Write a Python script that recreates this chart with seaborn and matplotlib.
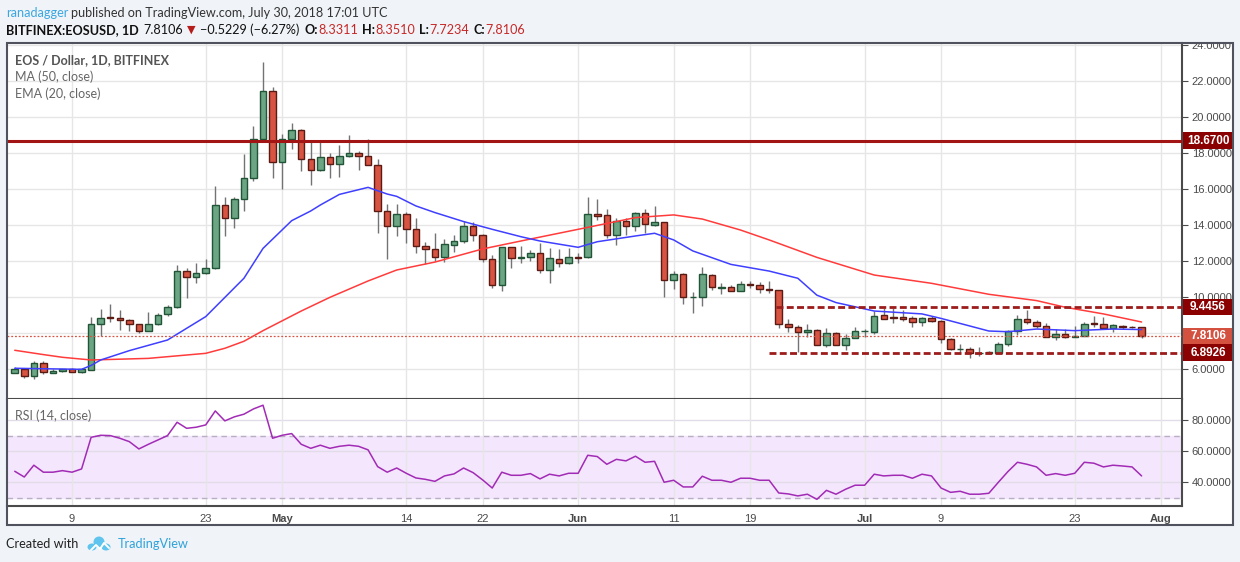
import numpy as np
import pandas as pd
import matplotlib
matplotlib.use("Agg")
import matplotlib.pyplot as plt
import seaborn as sns
from matplotlib.patches import Rectangle, Ellipse
from matplotlib.transforms import blended_transform_factory, Bbox, TransformedBbox

# ---------------- DATA (EOS / USD daily, Bitfinex) ----------------
start_day = "2018-04-03"
end_day = "2018-07-30"

opens = [5.80, 6.02, 5.61, 6.35, 5.80, 5.89, 5.98, 5.85, 5.96, 8.52,
         8.87, 8.85, 8.74, 8.52, 8.13, 8.52, 9.07, 9.46, 11.46, 11.13,
         11.31, 11.60, 15.11, 14.41, 15.43, 16.59, 18.76, 21.43, 17.48, 18.76,
         19.26, 17.65, 17.04, 17.76, 17.39, 17.85, 18.00, 17.85, 17.35, 14.80,
         13.93, 14.59, 13.80, 12.81, 12.65, 12.20, 12.87, 13.09, 13.93, 13.43,
         12.09, 10.65, 12.76, 12.15, 12.20, 12.43, 11.50, 12.09, 11.87, 12.22,
         12.20, 14.60, 14.54, 13.43, 14.20, 13.93, 14.65, 13.98, 14.15, 10.93,
         11.26, 9.98, 9.98, 11.20, 10.52, 10.54, 10.31, 10.70, 10.65, 10.43,
         10.37, 8.48, 8.31, 8.04, 8.15, 7.31, 7.98, 7.31, 7.70, 8.11,
         8.04, 8.98, 8.87, 8.87, 8.81, 8.59, 8.81, 8.65, 7.65, 7.11,
         7.13, 6.89, 6.89, 6.91, 7.37, 8.09, 8.76, 8.59, 8.37, 7.80,
         7.96, 7.80, 7.85, 8.54, 8.48, 8.26, 8.37, 8.33, 8.3311]
highs = [6.13, 6.07, 6.43, 6.43, 5.98, 6.02, 6.07, 6.07, 8.91, 9.31,
         9.59, 9.26, 8.80, 8.52, 9.17, 9.10, 9.54, 11.78, 11.63, 11.91,
         12.09, 16.17, 15.57, 15.57, 17.94, 19.50, 23.06, 21.65, 19.06, 19.65,
         19.35, 18.59, 18.65, 18.00, 18.44, 19.00, 18.09, 18.76, 17.65, 15.17,
         15.17, 14.72, 14.37, 13.06, 13.54, 13.20, 13.44, 14.24, 14.19, 13.50,
         12.33, 12.80, 12.80, 12.83, 12.59, 13.00, 12.70, 12.65, 12.70, 12.43,
         15.56, 15.43, 14.87, 14.37, 14.37, 14.72, 14.87, 15.06, 14.15, 11.43,
         11.35, 10.26, 11.65, 11.26, 10.76, 10.65, 10.87, 10.87, 10.81, 10.87,
         10.39, 8.76, 8.43, 8.48, 8.20, 8.26, 8.07, 7.96, 8.31, 8.24,
         9.20, 9.41, 9.41, 9.26, 8.93, 8.87, 8.93, 8.70, 7.70, 7.37,
         7.20, 7.20, 7.00, 7.48, 8.15, 8.98, 9.30, 8.70, 8.54, 8.20,
         8.20, 8.39, 8.63, 8.93, 8.87, 8.50, 8.43, 8.40, 8.3510]
lows = [5.76, 5.50, 5.46, 5.74, 5.76, 5.83, 5.81, 5.78, 5.96, 7.83,
        8.61, 8.17, 8.09, 7.98, 8.13, 8.45, 8.96, 9.40, 9.94, 10.80,
        11.25, 11.55, 13.41, 13.85, 14.80, 16.46, 18.70, 16.59, 15.98, 18.20,
        17.00, 16.24, 17.00, 16.59, 16.65, 17.80, 17.04, 17.35, 13.57, 12.09,
        13.41, 12.98, 12.43, 11.85, 12.02, 11.94, 12.52, 12.98, 13.13, 11.96,
        10.48, 10.35, 11.59, 11.89, 11.98, 11.31, 10.76, 11.68, 11.85, 11.87,
        12.15, 14.28, 13.26, 12.87, 13.43, 13.69, 13.54, 13.95, 10.00, 10.43,
        9.59, 9.09, 9.50, 10.37, 10.15, 10.31, 10.31, 10.48, 10.20, 10.20,
        8.26, 8.07, 6.93, 7.78, 7.31, 7.24, 7.31, 7.07, 7.70, 7.80,
        7.94, 8.76, 8.56, 8.65, 8.31, 8.37, 8.59, 7.43, 7.06, 6.81,
        6.59, 6.70, 6.83, 6.87, 7.26, 7.87, 8.48, 8.26, 7.80, 7.59,
        7.70, 7.80, 7.85, 8.35, 8.20, 8.07, 8.24, 8.25, 7.7234]
closes = [6.02, 5.61, 6.35, 5.85, 5.91, 5.98, 5.85, 6.02, 8.52, 8.85,
          8.83, 8.74, 8.52, 8.13, 8.52, 9.02, 9.46, 11.46, 11.13, 11.31,
          11.63, 15.11, 14.41, 15.43, 16.59, 18.76, 21.43, 17.48, 18.76, 19.26,
          17.65, 17.04, 17.76, 17.37, 17.81, 18.00, 17.85, 17.35, 14.80, 13.93,
          14.59, 13.80, 12.81, 12.65, 12.20, 12.93, 13.09, 13.93, 13.43, 12.09,
          10.65, 12.76, 12.15, 12.20, 12.43, 11.50, 12.15, 11.87, 12.20, 12.18,
          14.59, 14.52, 13.43, 14.20, 13.93, 14.65, 14.04, 14.15, 10.93, 11.26,
          9.98, 10.00, 11.26, 10.54, 10.56, 10.31, 10.70, 10.65, 10.43, 10.37,
          8.48, 8.31, 8.04, 8.15, 7.31, 7.98, 7.31, 7.70, 8.09, 8.13,
          8.93, 8.76, 8.81, 8.76, 8.59, 8.81, 8.65, 7.65, 7.09, 7.13,
          6.87, 6.91, 6.94, 7.37, 8.09, 8.76, 8.59, 8.37, 7.80, 7.96,
          7.80, 7.85, 8.52, 8.50, 8.26, 8.43, 8.35, 8.32, 7.8106]

# MA(50) and EMA(20) at sample days (day 0 = Apr 3)
ma_day = [0, 3, 5, 8, 14, 20, 22, 24, 26, 30, 33, 37, 40, 44, 49, 54, 59, 65,
          69, 72, 76, 79, 84, 90, 96, 102, 107, 110, 114, 118]
ma_val = [7.04, 6.80, 6.65, 6.50, 6.59, 6.87, 7.15, 7.54, 8.13, 9.22, 9.98,
          10.89, 11.50, 11.94, 12.67, 13.22, 13.76, 14.41, 14.56, 14.33, 13.72,
          13.17, 12.20, 11.22, 10.76, 10.15, 9.80, 9.43, 9.06, 8.61]
ema_day = [0, 7, 8, 9, 12, 16, 20, 24, 26, 29, 31, 32, 34, 37, 39, 40, 42, 44,
           47, 50, 53, 55, 59, 61, 65, 67, 69, 71, 75, 79, 82, 84, 86, 90, 95,
           97, 102, 104, 107, 111, 115, 118]
ema_val = [6.04, 5.98, 6.20, 6.50, 7.02, 7.61, 8.91, 11.04, 12.70, 14.24,
           14.78, 15.11, 15.70, 16.09, 15.72, 15.59, 15.06, 14.69, 14.19, 13.76,
           13.35, 13.11, 12.76, 13.07, 13.39, 13.54, 13.17, 12.56, 11.81, 11.44,
           11.04, 10.10, 9.69, 9.22, 9.06, 8.81, 8.11, 8.07, 8.22, 8.13, 8.22, 8.19]

rsi = [47.1, 43.4, 51.0, 46.5, 46.5, 47.5, 46.5, 48.6, 69.0, 70.3,
       70.1, 68.4, 66.2, 61.5, 64.5, 67.3, 70.1, 78.7, 74.8, 75.5,
       77.0, 86.0, 79.6, 82.2, 83.9, 87.3, 89.7, 68.4, 70.3, 71.4,
       64.5, 61.9, 63.9, 61.9, 63.2, 63.9, 63.2, 60.9, 50.1, 46.5,
       49.2, 45.8, 42.8, 41.9, 40.6, 44.1, 45.4, 49.2, 46.2, 41.5,
       36.3, 46.5, 44.5, 44.5, 45.6, 42.2, 45.2, 44.1, 45.8, 45.8,
       57.4, 56.6, 51.6, 54.8, 53.8, 56.8, 52.9, 53.5, 40.0, 41.3,
       37.0, 37.0, 43.9, 41.3, 41.3, 40.0, 42.6, 42.6, 41.3, 41.3,
       33.1, 32.5, 31.2, 32.3, 29.0, 34.8, 32.3, 35.5, 38.1, 38.1,
       45.2, 44.1, 44.5, 44.5, 42.6, 45.2, 44.1, 36.3, 33.5, 34.2,
       32.3, 32.3, 32.9, 40.0, 46.9, 52.9, 51.6, 49.9, 44.5, 45.6,
       44.5, 45.8, 52.9, 52.3, 49.9, 51.0, 50.5, 49.9, 44.1]

# horizontal levels drawn on the chart
resistance_top = 18.67
range_high = 9.4456
range_low = 6.8926
last_close = 7.8106
range_start = ["2018-06-22", "2018-06-21"]   # where the dashed lines begin

price_ticks = [6, 8, 10, 12, 14, 16, 18, 20, 22, 24]
hidden_price_ticks = [8]     # covered by the last price tag in the original
rsi_ticks = [40, 60, 80]
tick_dates = ["2018-04-09", "2018-04-23", "2018-05-01", "2018-05-14", "2018-05-22",
              "2018-06-01", "2018-06-11", "2018-06-19", "2018-07-01", "2018-07-09",
              "2018-07-23", "2018-08-01"]
tick_text = ["9", "23", "May", "14", "22", "Jun", "11", "19", "Jul", "9", "23", "Aug"]

# ---------------- PREP ----------------
days = pd.date_range(start_day, end_day, freq="D")
df = pd.DataFrame({"open": opens, "high": highs, "low": lows, "close": closes,
                   "rsi": rsi})
df["day"] = np.arange(len(days))
t0 = pd.Timestamp(start_day)
tick_pos = [(pd.Timestamp(d) - t0).days for d in tick_dates]

W, H = 1240, 562
def fx(x):
    return x / W
def fy(y):
    return 1 - y / H

sns.set_style("white")
plt.rcParams["font.family"] = ["Liberation Sans", "DejaVu Sans"]

fig = plt.figure(figsize=(W / 100, H / 100), dpi=100)
fig.patch.set_facecolor("#F0F3F7")

# white chart box behind the panes
fig.add_artist(Rectangle((fx(7), fy(525)), fx(1233) - fx(7), fy(43) - fy(525),
                         transform=fig.transFigure, fc="white", ec="none", zorder=-5))

ax = fig.add_axes([fx(7), fy(399), fx(1182) - fx(7), fy(43) - fy(399)])
ax_rsi = fig.add_axes([fx(7), fy(506), fx(1182) - fx(7), fy(399) - fy(506)])

xmin, xmax = -0.81, 122.23
grid_c = "#E6E6E6"
axis_c = "#4A4A4A"

# ---------------- MAIN PANE ----------------
ax.set_xlim(xmin, xmax)
ax.set_ylim(4.333, 24.11)
for p in price_ticks:
    ax.axhline(p, color=grid_c, lw=1, zorder=0)
for t in tick_pos:
    ax.axvline(t, color=grid_c, lw=1, zorder=0)

up_fill, up_edge = "#6BA583", "#225437"
dn_fill, dn_edge = "#D75442", "#5B1A13"
wick_c = "#737375"

ax.vlines(df["day"], df["low"], df["high"], color=wick_c, lw=1, zorder=2)
is_up = df["close"] >= df["open"]
body_lo = np.minimum(df["open"], df["close"])
body_h = np.maximum((df["close"] - df["open"]).abs(), 0.02)
ax.bar(df["day"][is_up], body_h[is_up], bottom=body_lo[is_up], width=0.68,
       color=up_fill, edgecolor=up_edge, lw=1, zorder=3)
ax.bar(df["day"][~is_up], body_h[~is_up], bottom=body_lo[~is_up], width=0.68,
       color=dn_fill, edgecolor=dn_edge, lw=1, zorder=3)

sns.lineplot(x=ma_day, y=ma_val, ax=ax, color="#FF3B3B", lw=1.1, zorder=4)
sns.lineplot(x=ema_day, y=ema_val, ax=ax, color="#3F3FFF", lw=1.1, zorder=4)

# levels
ax.axhline(resistance_top, color="#A31515", lw=2.2, zorder=5)
ax.axhline(last_close, color="#D75442", lw=0.9, ls=(0, (1.5, 1.5)), zorder=5)
d_hi = (pd.Timestamp(range_start[0]) - t0).days - 0.3
d_lo = (pd.Timestamp(range_start[1]) - t0).days
ax.plot([d_hi, xmax], [range_high, range_high], color="#9C1C1C", lw=2,
        ls=(0, (2.5, 1.2)), zorder=5)
ax.plot([d_lo, xmax], [range_low, range_low], color="#9C1C1C", lw=2,
        ls=(0, (2.5, 1.2)), zorder=5)

ax.set_xticks(tick_pos)
ax.set_xticklabels([])
ax.tick_params(axis="x", length=0)
ax.yaxis.tick_right()
ax.set_yticks(price_ticks)
ax.set_yticklabels(["" if p in hidden_price_ticks else f"{p:.4f}" for p in price_ticks],
                   fontsize=8, color=axis_c)
ax.tick_params(axis="y", length=4, width=0.8, color=axis_c, pad=3)
ax.set_xlabel("")
ax.set_ylabel("")
for s in ["top", "left"]:
    ax.spines[s].set_visible(False)
for s in ["bottom", "right"]:
    ax.spines[s].set_color(axis_c)
    ax.spines[s].set_linewidth(1.5)

# top label is cut by the chart box, as in the original
box_clip = TransformedBbox(Bbox([[fx(7), fy(525)], [fx(1233), fy(44)]]), fig.transFigure)
for lab in ax.get_yticklabels():
    lab.set_clip_box(box_clip)
    lab.set_clip_on(True)

# price tags on the axis
tag_tr = blended_transform_factory(fig.transFigure, ax.transData)
tags = [(resistance_top, "#8B0000"), (range_high, "#8B0000"),
        (last_close, "#D4503F"), (range_low, "#8B0000")]
for val, col in tags:
    ax.add_patch(Rectangle((fx(1183), val - 0.47), fx(1233) - fx(1183), 0.94,
                           transform=tag_tr, fc=col, ec="none", clip_on=False, zorder=10))
    ax.text(fx(1208), val, f"{val:.4f}", transform=tag_tr, ha="center", va="center",
            color="white", fontsize=8.5, fontweight="bold", zorder=11, clip_on=False)

# legend texts
leg_font = ["Lato", "DejaVu Sans"]
fig.text(fx(15), fy(60), "EOS / Dollar, 1D, BITFINEX", color="#555555", fontsize=9,
         family=leg_font, fontweight="bold", va="center")
fig.text(fx(15), fy(77), "MA (50, close)", color="#666666", fontsize=9,
         family=leg_font, va="center")
fig.text(fx(15), fy(94), "EMA (20, close)", color="#666666", fontsize=9,
         family=leg_font, va="center")

# ---------------- RSI PANE ----------------
ax_rsi.set_xlim(xmin, xmax)
ax_rsi.set_ylim(24.7, 93.7)
ax_rsi.axhspan(30, 70, color="#F3E6FD", zorder=0)
for r in rsi_ticks:
    ax_rsi.axhline(r, color="#E2DCE8", lw=1, zorder=0.5)
for t in tick_pos:
    ax_rsi.axvline(t, color=grid_c, lw=1, zorder=0.5)
ax_rsi.axhline(70, color="#B9AFC2", lw=1, ls=(0, (4, 3)), zorder=1)
ax_rsi.axhline(30, color="#B9AFC2", lw=1, ls=(0, (4, 3)), zorder=1)
sns.lineplot(data=df, x="day", y="rsi", ax=ax_rsi, color="#A22BB5", lw=1.1, zorder=3)
fig.text(fx(15), fy(416), "RSI (14, close)", color="#666666", fontsize=9,
         family=leg_font, va="center")

ax_rsi.yaxis.tick_right()
ax_rsi.set_yticks(rsi_ticks)
ax_rsi.set_yticklabels([f"{r:.4f}" for r in rsi_ticks], fontsize=8, color=axis_c)
ax_rsi.tick_params(axis="y", length=4, width=0.8, color=axis_c, pad=3)
ax_rsi.set_xticks(tick_pos)
ax_rsi.set_xticklabels(tick_text, fontsize=8, color=axis_c)
for lab, txt in zip(ax_rsi.get_xticklabels(), tick_text):
    if txt in ("May", "Jun", "Jul", "Aug"):
        lab.set_fontweight("bold")
ax_rsi.tick_params(axis="x", length=3, width=0.8, color=axis_c, pad=3)
ax_rsi.set_xlabel("")
ax_rsi.set_ylabel("")
for s in ["top", "left"]:
    ax_rsi.spines[s].set_visible(False)
for s in ["bottom", "right"]:
    ax_rsi.spines[s].set_color(axis_c)
    ax_rsi.spines[s].set_linewidth(1.5)

# outer border of the chart box
fig.add_artist(Rectangle((fx(7), fy(525)), fx(1233) - fx(7), fy(43) - fy(525),
                         transform=fig.transFigure, fc="none", ec="#50535E",
                         lw=1.5, zorder=20))

# ---------------- HEADER / FOOTER ----------------
renderer = fig.canvas.get_renderer()

def chain(pieces, x0, y0):
    x = x0
    for s, gap, kw in pieces:
        x += gap
        opts = dict(va="center", ha="left", family=leg_font)
        opts.update(kw)
        t = fig.text(fx(x), fy(y0), s, **opts)
        x += t.get_window_extent(renderer=renderer).width

hdr_red = "#C62828"
hs = 9.1
chain([("ranadagger", 0, dict(color="#3BA7E0", fontsize=hs)),
       ("published on TradingView.com, July 30, 2018 17:01 UTC", 3,
        dict(color="#333333", fontsize=hs))], 6, 13)
chain([("BITFINEX:EOSUSD, 1D", 0, dict(color="#111111", fontsize=hs, fontweight="bold")),
       ("7.8106", 5, dict(color="#111111", fontsize=hs)),
       ("\u25BC", 4, dict(color="#B71C1C", fontsize=8, family=["DejaVu Sans"])),
       ("\u22120.5229 (\u22126.27%)", 4, dict(color="#111111", fontsize=hs)),
       ("O:", 5, dict(color="#111111", fontsize=hs, fontweight="bold")),
       ("8.3311", 0.5, dict(color=hdr_red, fontsize=hs)),
       ("H:", 4, dict(color="#111111", fontsize=hs, fontweight="bold")),
       ("8.3510", 0.5, dict(color=hdr_red, fontsize=hs)),
       ("L:", 4, dict(color="#111111", fontsize=hs, fontweight="bold")),
       ("7.7234", 0.5, dict(color=hdr_red, fontsize=hs)),
       ("C:", 4, dict(color="#111111", fontsize=hs, fontweight="bold")),
       ("7.8106", 0.5, dict(color=hdr_red, fontsize=hs))], 6, 30)

fig.text(fx(6), fy(544), "Created with", color="#222222", fontsize=9.2,
         family=leg_font, va="center")
logo_c = "#5FC4EE"
for cx, cy, w, h in [(92, 547, 9, 7), (99, 542, 11, 11), (106, 547, 9, 7)]:
    fig.add_artist(Ellipse((fx(cx), fy(cy)), fx(w), h / H, transform=fig.transFigure,
                           fc=logo_c, ec="none"))
fig.add_artist(plt.Line2D([fx(91), fx(96), fx(100), fx(104), fx(109)],
                          [fy(550), fy(545), fy(549), fy(543), fy(548)],
                          transform=fig.transFigure, color="white", lw=1.4))
fig.text(fx(118), fy(544), "TradingView", color="#2FA3DB", fontsize=9.2,
         family=leg_font, va="center")

fig.savefig("out.png", dpi=100, facecolor=fig.get_facecolor())
